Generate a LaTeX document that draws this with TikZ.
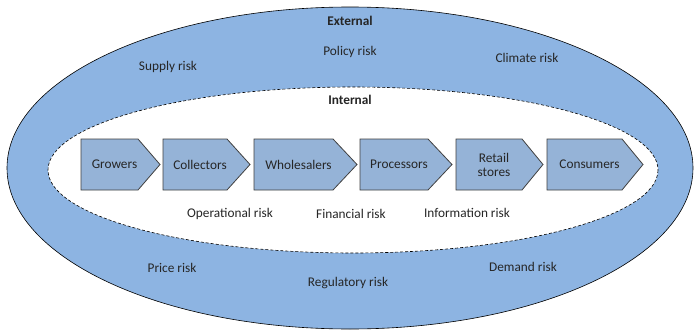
\documentclass[tikz,border=0pt]{standalone}
\usepackage{fontspec}
\setmainfont{Carlito}
\usepackage{tikz}

\definecolor{ringblue}{RGB}{141,180,226}
\definecolor{chevblue}{RGB}{149,179,215}
\definecolor{inktext}{RGB}{38,38,38}

\tikzset{
  outerring/.style={draw=black, line width=0.6pt, fill=ringblue},
  innerring/.style={draw=black, densely dashed, line width=0.6pt, fill=white},
  chev/.style={draw=black!75, line width=0.8pt, fill=chevblue},
  lbl/.style={text=inktext, font=\fontsize{13.3}{14}\selectfont, align=center, inner sep=1pt},
  risk/.style={lbl}
}

\begin{document}
\begin{tikzpicture}[x=1pt, y=-1pt]
    \useasboundingbox (0,0) rectangle (696,332);
    % the two rings
    \draw[outerring] (350,168) ellipse [x radius=343, y radius=161];
    \draw[innerring] (353,170) ellipse [x radius=305, y radius=83];
    \node[lbl, font=\fontsize{13.3}{14}\selectfont\bfseries] (ext) at (350,21) {External};
    \node[lbl, font=\fontsize{13.3}{14}\selectfont\bfseries] (int) at (350,100) {Internal};
    % chain of chevrons
    \foreach \l/\r/\t/\name/\txt in {81/138/160/grow/Growers, 163/227/250/coll/Collectors,
        254/333/357/whol/Wholesalers, 360/428/452/proc/Processors,
        456/522/543/ret/{Retail\\stores}, 547/622/643/cons/Consumers}
    {
      \draw[chev] (\l,139) -- (\r,139) -- (\t,164.5) -- (\r,190) -- (\l,190) -- cycle;
      \node[lbl] (\name) at ({(\l+\r)/2+5},164.5) {\txt};
    }
    % risks
    \node[risk] (supply) at (168,67) {Supply risk};
    \node[risk] (policy) at (350,52) {Policy risk};
    \node[risk] (climate) at (527,58) {Climate risk};
    \node[risk] (oper) at (230,214) {Operational risk};
    \node[risk] (fin) at (351,214) {Financial risk};
    \node[risk] (info) at (467,213) {Information risk};
    \node[risk] (price) at (172,268) {Price risk};
    \node[risk] (reg) at (348,283) {Regulatory risk};
    \node[risk] (demand) at (523,267) {Demand risk};
\end{tikzpicture}
\end{document}
